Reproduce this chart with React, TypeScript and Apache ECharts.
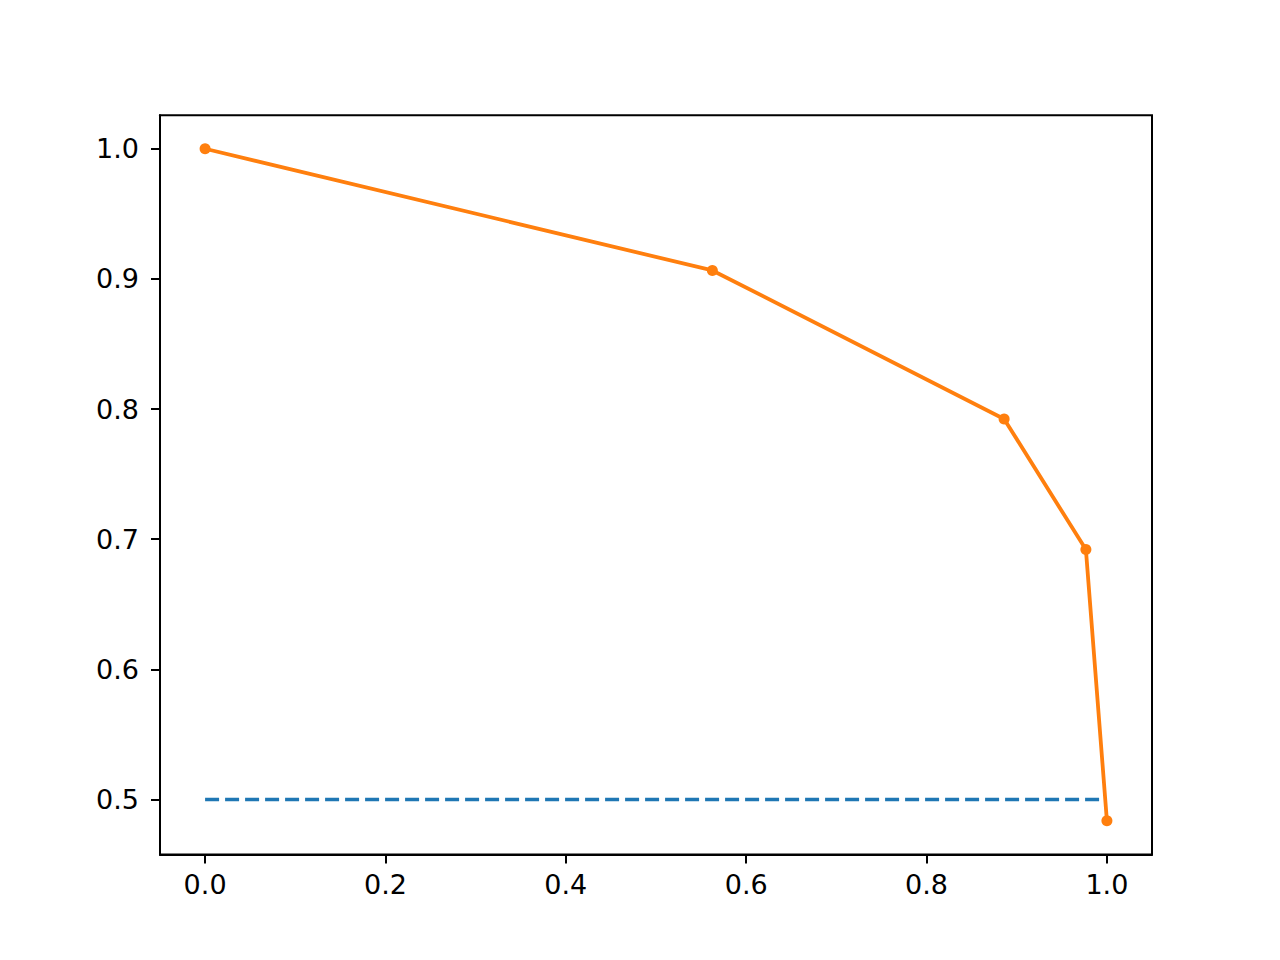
import React, { useEffect, useRef } from "react";
import * as echarts from "echarts";

const curveX = [0.0, 0.5625, 0.886, 0.9767, 1.0];
const curveY = [1.0, 0.9065, 0.7924, 0.692, 0.4836];
const baselineX = [0.0, 1.0];
const baselineY = [0.5, 0.5];
const xTicks = [0.0, 0.2, 0.4, 0.6, 0.8, 1.0];
const yTicks = [0.5, 0.6, 0.7, 0.8, 0.9, 1.0];

export default function App() {
  const ref = useRef<HTMLDivElement>(null);
  useEffect(() => {
    document.body.style.margin = "0";
    const chart = echarts.init(ref.current!, null, { renderer: "svg" });
    const font = { fontFamily: "DejaVu Sans", fontSize: 27, color: "#000" };
    chart.setOption({
      animation: false,
      backgroundColor: "#fff",
      grid: {
        left: 160,
        top: 115.2,
        width: 992,
        height: 739.2,
        show: true,
        borderColor: "#000",
        borderWidth: 2,
        backgroundColor: "transparent",
      },
      xAxis: {
        type: "value",
        min: -0.05,
        max: 1.05,
        axisLine: { show: true, onZero: false, lineStyle: { color: "#000", width: 2 } },
        axisTick: {
          show: true,
          inside: false,
          length: 9,
          lineStyle: { color: "#000", width: 2 },
          customValues: xTicks,
        },
        axisLabel: {
          ...font,
          margin: 17,
          customValues: xTicks,
          formatter: (v: number) => v.toFixed(1),
        },
        splitLine: { show: false },
      },
      yAxis: {
        type: "value",
        min: 0.4578,
        max: 1.0258,
        axisLine: { show: true, onZero: false, lineStyle: { color: "#000", width: 2 } },
        axisTick: {
          show: true,
          inside: false,
          length: 9,
          lineStyle: { color: "#000", width: 2 },
          customValues: yTicks,
        },
        axisLabel: {
          ...font,
          margin: 21,
          customValues: yTicks,
          formatter: (v: number) => v.toFixed(1),
        },
        splitLine: { show: false },
      },
      series: [
        {
          type: "line",
          data: baselineX.map((x, i) => [x, baselineY[i]]),
          showSymbol: false,
          symbol: "none",
          lineStyle: { color: "#1f77b4", width: 3.5, type: [14, 6] },
          z: 2,
        },
        {
          type: "line",
          data: curveX.map((x, i) => [x, curveY[i]]),
          symbol: "circle",
          symbolSize: 11,
          itemStyle: { color: "#ff7f0e" },
          lineStyle: { color: "#ff7f0e", width: 3.8 },
          z: 3,
        },
      ],
    });
    return () => chart.dispose();
  }, []);
  return <div ref={ref} style={{ width: 1280, height: 960 }} />;
}
